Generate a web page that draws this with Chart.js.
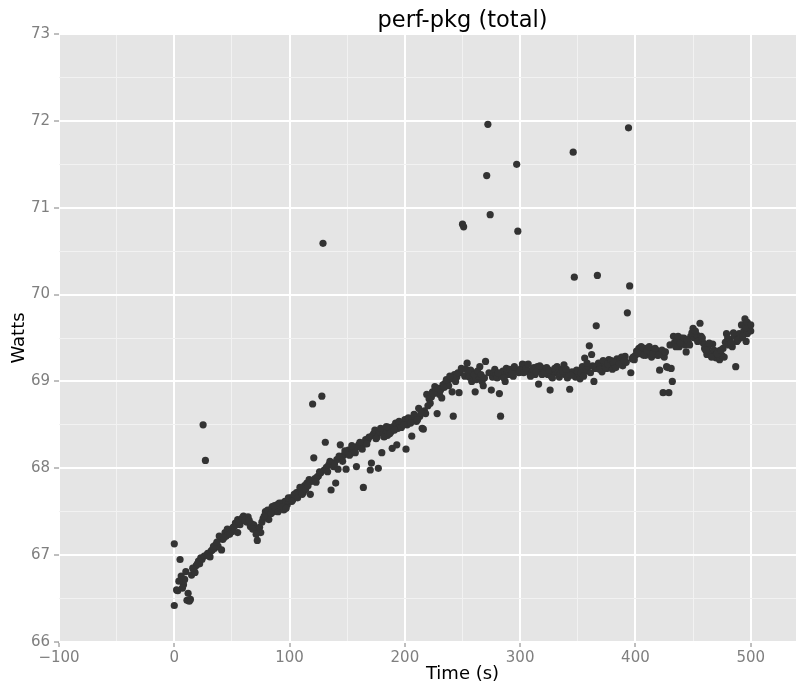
<!DOCTYPE html>
<html>
<head>
<meta charset="utf-8">
<script src="https://cdn.jsdelivr.net/npm/chart.js@4/dist/chart.umd.min.js"></script>
<style>
  html, body { margin: 0; padding: 0; background: #fff; overflow: hidden; }
  #wrap { width: 796px; height: 686px; overflow: hidden; }
</style>
</head>
<body>
<div id="wrap"><canvas id="perfChart" width="926" height="686"></canvas></div>
<script>
// tempo de cada amostra (s)
const timeS = [
  0, 0, 2, 3, 5, 6, 8, 9, 10, 11, 12, 13, 14, 15, 17, 18, 19, 21, 22, 23,
  24, 25, 26, 27, 28, 29, 30, 31, 32, 33, 35, 36, 38, 40, 41, 42, 44, 45, 47, 49,
  50, 52, 53, 55, 55, 57, 58, 60, 62, 63, 64, 66, 67, 69, 70, 72, 73, 75, 76, 77,
  79, 80, 82, 83, 85, 86, 88, 89, 90, 92, 93, 95, 96, 98, 100, 101, 103, 105, 106, 108,
  110, 112, 113, 115, 117, 118, 119, 120, 121, 122, 124, 125, 127, 128, 129, 130, 131, 132, 134, 136,
  137, 138, 140, 141, 142, 144, 145, 147, 149, 150, 151, 153, 155, 156, 158, 159, 160, 162, 164, 165,
  166, 168, 170, 171, 172, 173, 174, 176, 177, 178, 180, 181, 183, 185, 186, 188, 189, 190, 192, 193,
  194, 196, 198, 200, 201, 202, 204, 206, 207, 209, 210, 212, 213, 215, 216, 217, 218, 219, 221, 222,
  224, 226, 227, 228, 230, 232, 233, 235, 237, 238, 240, 241, 242, 243, 245, 247, 248, 250, 251, 252,
  253, 254, 255, 256, 258, 259, 261, 262, 264, 265, 267, 268, 270, 271, 272, 273, 274, 275, 276, 277,
  279, 280, 282, 283, 284, 285, 287, 289, 290, 292, 294, 296, 297, 298, 299, 301, 302, 304, 306, 308,
  310, 312, 313, 315, 316, 318, 320, 322, 324, 326, 327, 329, 331, 332, 334, 336, 338, 339, 341, 342,
  343, 345, 346, 347, 348, 349, 351, 352, 354, 356, 357, 359, 360, 361, 362, 364, 365, 366, 367, 368,
  370, 371, 373, 375, 377, 378, 380, 382, 384, 385, 387, 389, 391, 392, 393, 394, 395, 396, 397, 399,
  400, 401, 403, 404, 406, 408, 409, 411, 413, 414, 416, 418, 419, 421, 422, 423, 424, 425, 427, 428,
  429, 430, 431, 432, 433, 434, 436, 438, 440, 441, 443, 444, 446, 448, 450, 451, 453, 455, 456, 457,
  459, 460, 462, 463, 465, 467, 468, 469, 470, 472, 473, 475, 476, 478, 479, 481, 482, 484, 486, 487,
  488, 490, 491, 492, 494, 495, 496, 497, 498, 499, 500,
  4, 7, 16, 20, 34, 37, 39, 43, 46, 48, 51, 54, 56, 59, 61, 65, 68, 71, 74, 78,
  81, 84, 87, 91, 94, 97, 99, 102, 104, 107, 109, 111, 114, 116, 123, 126, 133, 135, 139, 143,
  146, 148, 152, 154, 157, 161, 163, 167, 169, 175, 179, 182, 184, 187, 191, 195, 197, 199, 203, 205,
  208, 211, 214, 220, 223, 225, 229, 231, 234, 236, 239, 244, 246, 249, 257, 260, 263, 266, 269, 278,
  281, 286, 288, 291, 293, 295, 300, 303, 305, 307, 309, 311, 314, 317, 319, 321, 323, 325, 328, 330,
  333, 335, 337, 340, 344, 350, 353, 355, 358, 363, 369, 372, 374, 376, 379, 381, 383, 386, 388, 390,
  398, 402, 405, 407, 410, 412, 415, 417, 420, 426, 435, 437, 439, 442, 445, 447, 449, 452, 454, 458,
  461, 464, 466, 471, 474, 477, 480, 483, 485, 489, 493, 496, 497, 500
];

// potência medida (W)
const watts = [
  67.13, 66.42, 66.60, 66.59, 66.95, 66.76, 66.66, 66.72, 66.81, 66.48, 66.56, 66.47, 66.49, 66.77, 66.83, 66.80, 66.88, 66.93, 66.90, 66.97,
  66.95, 68.50, 66.99, 68.09, 67.00, 67.02, 67.02, 66.98, 67.05, 67.06, 67.08, 67.12, 67.10, 67.20, 67.06, 67.18, 67.26, 67.22, 67.25, 67.29,
  67.27, 67.33, 67.37, 67.41, 67.26, 67.35, 67.40, 67.45, 67.41, 67.38, 67.44, 67.33, 67.36, 67.35, 67.30, 67.17, 67.28, 67.26, 67.38, 67.42,
  67.50, 67.47, 67.41, 67.52, 67.56, 67.50, 67.53, 67.58, 67.50, 67.55, 67.60, 67.52, 67.62, 67.58, 67.62, 67.66, 67.64, 67.68, 67.72, 67.73,
  67.76, 67.72, 67.80, 67.83, 67.87, 67.70, 67.85, 68.74, 68.12, 67.88, 67.90, 67.91, 67.95, 68.83, 70.59, 67.98, 68.30, 68.01, 68.04, 67.75,
  68.06, 68.02, 67.83, 68.10, 67.99, 68.27, 68.12, 68.15, 67.99, 68.18, 68.21, 68.17, 68.22, 68.20, 68.02, 68.25, 68.27, 68.24, 67.78, 68.28,
  68.33, 68.33, 67.98, 68.06, 68.38, 68.40, 68.44, 68.36, 68.00, 68.42, 68.18, 68.40, 68.44, 68.38, 68.47, 68.42, 68.23, 68.48, 68.52, 68.27,
  68.46, 68.50, 68.53, 68.56, 68.22, 68.50, 68.55, 68.37, 68.58, 68.58, 68.54, 68.69, 68.60, 68.46, 68.45, 68.66, 68.63, 68.85, 68.80, 68.75,
  68.88, 68.94, 68.90, 68.63, 68.85, 68.81, 68.96, 68.98, 69.00, 68.95, 69.03, 68.88, 68.60, 69.08, 69.05, 68.87, 69.10, 70.81, 70.78, 69.06,
  69.14, 69.21, 69.11, 69.05, 69.00, 69.10, 68.88, 69.02, 69.06, 69.17, 69.00, 68.95, 69.23, 71.37, 71.96, 69.10, 70.92, 68.90, 69.05, 69.10,
  69.08, 69.04, 68.86, 68.60, 69.06, 69.12, 69.00, 69.10, 69.08, 69.12, 69.06, 69.13, 71.50, 70.73, 69.10, 69.15, 69.20, 69.19, 69.12, 69.10,
  69.13, 69.16, 69.08, 69.17, 68.97, 69.12, 69.15, 69.13, 69.08, 68.90, 69.06, 69.12, 69.10, 69.17, 69.05, 69.14, 69.19, 69.08, 69.04, 69.10,
  68.91, 69.11, 71.64, 70.20, 69.05, 69.13, 69.08, 69.03, 69.17, 69.27, 69.12, 69.17, 69.41, 69.10, 69.31, 69.00, 69.15, 69.64, 70.22, 69.21,
  69.18, 69.11, 69.22, 69.15, 69.25, 69.20, 69.14, 69.19, 69.26, 69.22, 69.25, 69.18, 69.29, 69.22, 69.79, 71.92, 70.10, 69.10, 69.26, 69.25,
  69.30, 69.35, 69.38, 69.32, 69.36, 69.38, 69.30, 69.35, 69.33, 69.28, 69.34, 69.36, 69.30, 69.13, 69.33, 69.36, 68.87, 69.28, 69.17, 69.16,
  68.87, 69.42, 69.15, 69.00, 69.52, 69.45, 69.48, 69.40, 69.50, 69.46, 69.42, 69.34, 69.45, 69.52, 69.61, 69.50, 69.54, 69.47, 69.67, 69.52,
  69.44, 69.38, 69.31, 69.40, 69.33, 69.43, 69.36, 69.30, 69.27, 69.35, 69.25, 69.30, 69.38, 69.45, 69.55, 69.42, 69.48, 69.40, 69.52, 69.17,
  69.46, 69.55, 69.50, 69.65, 69.58, 69.72, 69.46, 69.55, 69.64, 69.61, 69.58,
  66.70, 66.62, 66.85, 66.90, 67.10, 67.15, 67.22, 67.20, 67.30, 67.24, 67.32, 67.35, 67.38, 67.43, 67.40, 67.40, 67.30, 67.24, 67.32, 67.45,
  67.52, 67.48, 67.57, 67.60, 67.56, 67.54, 67.66, 67.62, 67.70, 67.66, 67.78, 67.70, 67.76, 67.80, 67.84, 67.96, 67.96, 68.08, 68.05, 68.14,
  68.08, 68.20, 68.15, 68.26, 68.18, 68.30, 68.22, 68.28, 68.36, 68.34, 68.46, 68.36, 68.48, 68.40, 68.44, 68.54, 68.47, 68.50, 68.58, 68.52,
  68.62, 68.56, 68.64, 68.72, 68.82, 68.86, 68.92, 68.90, 68.93, 69.02, 69.06, 69.00, 69.10, 69.15, 69.13, 69.08, 69.12, 69.08, 69.04, 69.14,
  69.10, 69.04, 69.15, 69.14, 69.09, 69.17, 69.13, 69.10, 69.15, 69.20, 69.06, 69.14, 69.11, 69.18, 69.08, 69.10, 69.16, 69.13, 69.04, 69.15,
  69.10, 69.09, 69.12, 69.14, 69.07, 69.12, 69.10, 69.06, 69.21, 69.18, 69.14, 69.24, 69.16, 69.20, 69.24, 69.22, 69.16, 69.20, 69.28, 69.24,
  69.28, 69.33, 69.40, 69.30, 69.36, 69.40, 69.32, 69.38, 69.30, 69.34, 69.40, 69.52, 69.44, 69.50, 69.48, 69.42, 69.56, 69.58, 69.46, 69.50,
  69.36, 69.44, 69.28, 69.32, 69.36, 69.28, 69.50, 69.44, 69.56, 69.48, 69.52, 69.62, 69.68, 69.65
];

// rótulos dos eixos
const xTickLabels = [-100, 0, 100, 200, 300, 400, 500];
const yTickLabels = [66, 67, 68, 69, 70, 71, 72, 73];
const chartTitle = 'perf-pkg (total)';

const points = timeS.map((t, i) => ({ x: t, y: watts[i] }));

// fundo cinza do painel (estilo ggplot)
const panelBg = {
  id: 'panelBg',
  beforeDraw(chart) {
    const { ctx, chartArea: a } = chart;
    ctx.save();
    ctx.fillStyle = '#E5E5E5';
    ctx.fillRect(a.left, a.top, a.right - a.left, a.bottom - a.top);
    ctx.restore();
  }
};

// título centrado sobre o painel, como no ggplot
const panelTitle = {
  id: 'panelTitle',
  afterDraw(chart) {
    const { ctx, chartArea: a } = chart;
    ctx.save();
    ctx.fillStyle = '#000';
    ctx.font = '22.5px "DejaVu Sans"';
    ctx.textAlign = 'center';
    ctx.textBaseline = 'alphabetic';
    ctx.fillText(chartTitle, (a.left + a.right) / 2, 27);
    ctx.restore();
  }
};

const isMajor = (list, v) => list.some(m => Math.abs(m - v) < 1e-9);
const fmt = v => (v < 0 ? '\u2212' + Math.abs(v) : String(v));

const config = {
  type: 'scatter',
  data: {
    datasets: [{
      label: 'perf-pkg',
      data: points,
      backgroundColor: '#333333',
      borderWidth: 0,
      pointRadius: 3.6,
      pointHoverRadius: 3.6
    }]
  },
  options: {
    responsive: false,
    animation: false,
    events: [],
    layout: { padding: { left: 0, right: 60, top: 34, bottom: 0 } },
    plugins: {
      legend: { display: false },
      tooltip: { enabled: false },
      title: { display: false }
    },
    scales: {
      x: {
        type: 'linear',
        min: -100,
        max: 600,
        border: { display: false },
        afterFit(scale) { scale.height = 44; },
        grid: {
          color: c => (c.tick.value % 100 === 0 ? '#FFFFFF' : '#F2F2F2'),
          lineWidth: c => (c.tick.value % 100 === 0 ? 2 : 1),
          tickColor: c => (c.tick.value % 100 === 0 ? '#7F7F7F' : 'rgba(0,0,0,0)'),
          tickWidth: 1,
          tickLength: 5
        },
        ticks: {
          stepSize: 50,
          autoSkip: false,
          maxRotation: 0,
          padding: 2,
          color: '#7F7F7F',
          font: { family: 'DejaVu Sans', size: 15 },
          callback: v => (isMajor(xTickLabels, v) ? fmt(v) : '')
        },
        title: {
          display: true,
          text: 'Time (s)',
          color: '#000',
          font: { family: 'DejaVu Sans', size: 18 },
          padding: { top: 0, bottom: 1 }
        }
      },
      y: {
        type: 'linear',
        min: 66,
        max: 73,
        border: { display: false },
        afterFit(scale) { scale.width = 59; },
        grid: {
          color: c => (isMajor(yTickLabels, c.tick.value) ? '#FFFFFF' : '#F2F2F2'),
          lineWidth: c => (isMajor(yTickLabels, c.tick.value) ? 2 : 1),
          tickColor: c => (isMajor(yTickLabels, c.tick.value) ? '#7F7F7F' : 'rgba(0,0,0,0)'),
          tickWidth: 1,
          tickLength: 5
        },
        ticks: {
          stepSize: 0.5,
          autoSkip: false,
          padding: 4,
          color: '#7F7F7F',
          font: { family: 'DejaVu Sans', size: 15 },
          callback: v => (isMajor(yTickLabels, v) ? fmt(v) : '')
        },
        title: {
          display: true,
          text: 'Watts',
          color: '#000',
          font: { family: 'DejaVu Sans', size: 18 },
          padding: { top: 9, bottom: 0 }
        }
      }
    }
  },
  plugins: [panelBg, panelTitle]
};

const ctx = document.getElementById('perfChart').getContext('2d');
const perfChart = new Chart(ctx, config);
</script>
</body>
</html>
